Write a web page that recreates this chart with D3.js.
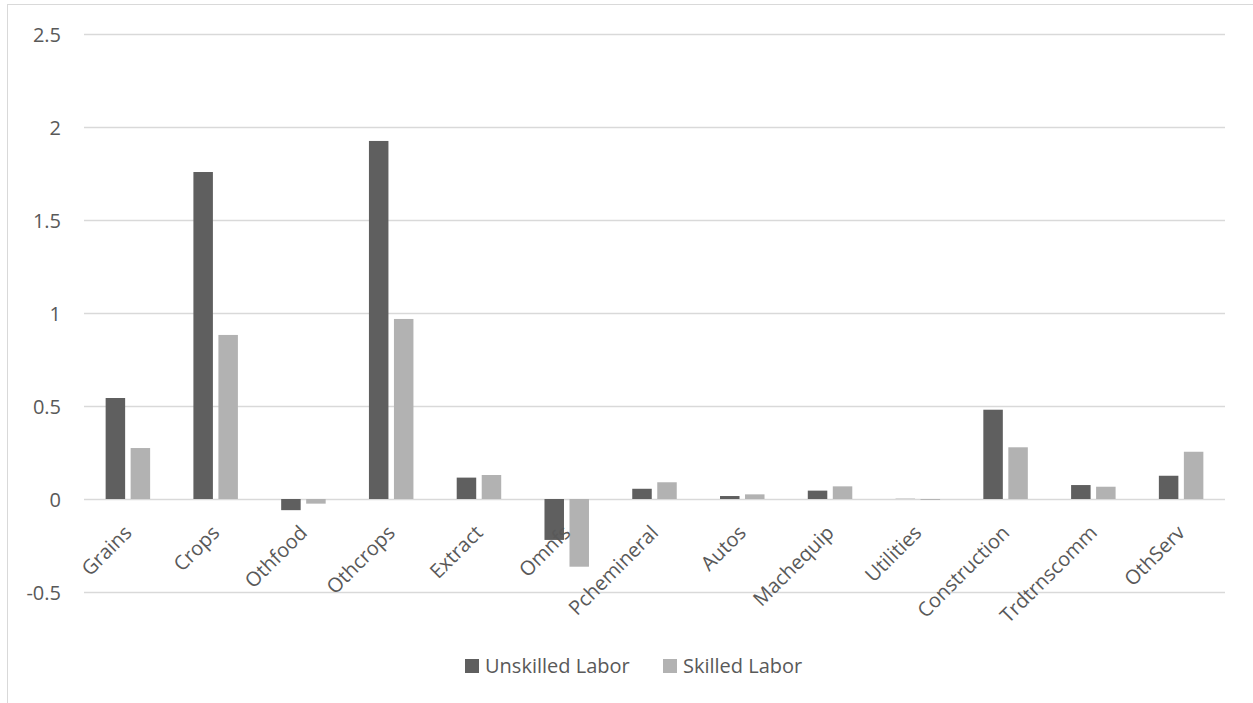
<!DOCTYPE html>
<html>
<head>
<meta charset="utf-8">
<script src="https://cdn.jsdelivr.net/npm/d3@7"></script>
<style>
  html, body { margin: 0; padding: 0; background: #fff; }
  svg { display: block; }
</style>
</head>
<body>
<svg id="chart" width="1253" height="703"></svg>
<script>
// Sector categories and wage changes by labour type
const categories = ["Grains", "Crops", "Othfood", "Othcrops", "Extract", "Omnfs",
  "Pchemineral", "Autos", "Machequip", "Utilities", "Construction", "Trdtrnscomm", "OthServ"];
const unskilled = [0.543, 1.758, -0.060, 1.925, 0.115, -0.220, 0.055, 0.016, 0.045, 0.001, 0.480, 0.075, 0.125];
const skilled   = [0.274, 0.882, -0.025, 0.968, 0.129, -0.364, 0.090, 0.025, 0.068, -0.005, 0.278, 0.066, 0.254];
const yTicks = [-0.5, 0, 0.5, 1, 1.5, 2, 2.5];
const tickLabels = ["-0.5", "0", "0.5", "1", "1.5", "2", "2.5"];
const seriesNames = ["Unskilled Labor", "Skilled Labor"];
const seriesColors = ["#5f5f5f", "#b2b2b2"];

const FONT = '"Open Sans", "Noto Sans", sans-serif';
const FONT_SIZE = 20;
const svg = d3.select("#chart").attr("font-family", FONT);
const textColor = "#595959";
const gridColor = "#d9d9d9";

// Outer chart frame
svg.append("rect")
  .attr("x", 7.5).attr("y", 4.5)
  .attr("width", 1260).attr("height", 720)
  .attr("fill", "none").attr("stroke", gridColor);

const plot = { left: 84, right: 1225, top: 34, bottom: 592 };

const y = d3.scaleLinear().domain([-0.5, 2.5]).range([plot.bottom, plot.top]);
const x0 = d3.scaleBand().domain(categories).range([plot.left, plot.right])
  .paddingInner(0.493).paddingOuter(0.2465);
const x1 = d3.scaleBand().domain([0, 1]).range([0, x0.bandwidth()]).paddingInner(0.22);

// Horizontal gridlines
svg.append("g")
  .selectAll("line").data(yTicks).join("line")
  .attr("x1", plot.left).attr("x2", plot.right)
  .attr("y1", d => Math.round(y(d)) + 0.5).attr("y2", d => Math.round(y(d)) + 0.5)
  .attr("stroke", gridColor).attr("stroke-width", 1.3);

// Y axis labels
const yAxis = d3.axisLeft(y).tickValues(yTicks).tickFormat((d, i) => tickLabels[i]).tickSize(0).tickPadding(0);
const gy = svg.append("g").attr("transform", `translate(61,0)`).call(yAxis)
  .attr("font-family", FONT).attr("font-size", FONT_SIZE);
gy.select(".domain").remove();
gy.selectAll("text").attr("fill", textColor).attr("dy", "0.36em");

// Bars
const rows = categories.map((c, i) => ({ c, vals: [unskilled[i], skilled[i]] }));
const groups = svg.append("g").selectAll("g").data(rows).join("g")
  .attr("transform", d => `translate(${x0(d.c)},0)`);
groups.selectAll("rect").data(d => d.vals.map((v, k) => ({ v, k }))).join("rect")
  .attr("x", d => x1(d.k))
  .attr("width", x1.bandwidth())
  .attr("y", d => y(Math.max(0, d.v)))
  .attr("height", d => Math.abs(y(d.v) - y(0)))
  .attr("fill", d => seriesColors[d.k]);

// Category labels, rotated 45 degrees
const xAxis = d3.axisBottom(x0).tickSize(0).tickPadding(0);
const gx = svg.append("g").attr("transform", `translate(0,${y(0)})`).call(xAxis)
  .attr("font-family", FONT).attr("font-size", FONT_SIZE);
gx.select(".domain").remove();
gx.selectAll("text")
  .attr("fill", textColor)
  .attr("text-anchor", "end")
  .attr("y", 0)
  .attr("dy", null)
  .attr("transform", "translate(5,35) rotate(-45)");

// Legend
const legend = svg.append("g").attr("transform", "translate(465,666)");
const legendOffsets = [0, 198];
seriesNames.forEach((name, i) => {
  const g = legend.append("g").attr("transform", `translate(${legendOffsets[i]},0)`);
  g.append("rect").attr("x", 0).attr("y", -7).attr("width", 14).attr("height", 14).attr("fill", seriesColors[i]);
  g.append("text").attr("x", 20).attr("y", 0).attr("dy", "0.35em")
    .attr("fill", textColor).attr("font-size", FONT_SIZE).text(name);
});
</script>
</body>
</html>
